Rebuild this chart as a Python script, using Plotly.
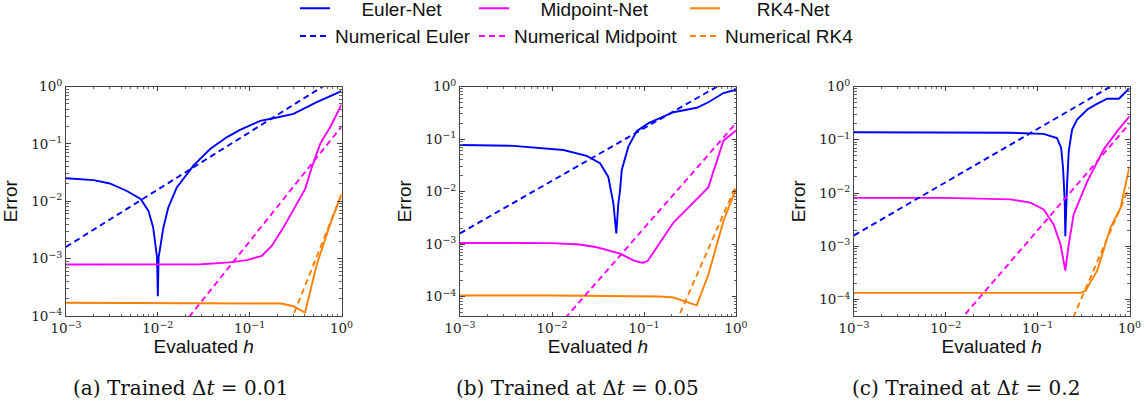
import plotly.graph_objects as go

# ---------------- data ----------------
# Panel (a) trained dt = 0.01
a_euler_h = [0.001, 0.002, 0.003, 0.0046, 0.0065, 0.0079, 0.0089, 0.0098, 0.0100, 0.0102, 0.0115, 0.013,
             0.0161, 0.0200, 0.0244, 0.0371, 0.0562, 0.0785, 0.13, 0.181, 0.30, 0.538, 1.0]
a_euler_e = [0.0251, 0.0234, 0.0204, 0.0151, 0.011, 0.0068, 0.0035, 0.00105, 0.00022, 0.00105, 0.0035, 0.0078,
             0.0174, 0.0282, 0.0417, 0.0813, 0.130, 0.175, 0.251, 0.28, 0.333, 0.533, 0.832]
a_mid_h = [0.001, 0.01, 0.03, 0.06, 0.0933, 0.1355, 0.174, 0.233, 0.401, 0.475, 0.585, 0.752, 1.0]
a_mid_e = [7.9e-4, 7.9e-4, 8.0e-4, 8.6e-4, 9.4e-4, 1.12e-3, 1.66e-3, 3.47e-3, 0.0162, 0.039, 0.1, 0.195, 0.484]
a_rk4_h = [0.001, 0.01, 0.1, 0.22, 0.30, 0.401, 0.538, 0.752, 1.0]
a_rk4_e = [1.7e-4, 1.7e-4, 1.7e-4, 1.65e-4, 1.48e-4, 1.15e-4, 7.9e-4, 4.0e-3, 0.0133]

# Panel (b) trained dt = 0.05
b_euler_h = [0.001, 0.0038, 0.0133, 0.0238, 0.0333, 0.0409, 0.0465, 0.0500, 0.0526, 0.0548, 0.0573, 0.0649,
             0.0676, 0.0832, 0.112, 0.209, 0.374, 0.501, 0.73, 1.0]
b_euler_e = [0.077, 0.074, 0.0617, 0.0479, 0.0347, 0.019, 0.0059, 0.0016, 0.0059, 0.0102, 0.0257, 0.0603,
             0.0716, 0.141, 0.2, 0.324, 0.394, 0.501, 0.75, 0.87]
b_mid_h = [0.001, 0.01, 0.02, 0.0306, 0.055, 0.0766, 0.09, 0.0985, 0.11, 0.209, 0.5, 0.73, 1.0]
b_mid_e = [1.05e-3, 1.04e-3, 9.8e-4, 8.7e-4, 6.6e-4, 4.9e-4, 4.5e-4, 4.4e-4, 4.8e-4, 2.57e-3, 0.012, 0.093, 0.145]
b_rk4_h = [0.001, 0.01, 0.15, 0.21, 0.374, 0.501, 0.73, 1.0]
b_rk4_e = [1.05e-4, 1.05e-4, 1.0e-4, 9.6e-5, 6.8e-5, 2.63e-4, 2.75e-3, 0.0111]

# Panel (c) trained dt = 0.2
c_euler_h = [0.001, 0.01, 0.0504, 0.116, 0.162, 0.18, 0.189, 0.197, 0.200, 0.209, 0.218, 0.237, 0.269,
             0.347, 0.427, 0.571, 0.766, 1.0]
c_euler_e = [0.138, 0.138, 0.135, 0.129, 0.108, 0.0708, 0.0295, 0.0071, 0.00155, 0.0145, 0.061, 0.155, 0.24,
             0.37, 0.457, 0.59, 0.59, 0.93]
c_mid_h = [0.001, 0.01, 0.0504, 0.0832, 0.116, 0.149, 0.177, 0.200, 0.218, 0.247, 0.347, 0.525, 0.735, 1.0]
c_mid_e = [8.1e-3, 8.1e-3, 7.6e-3, 6.6e-3, 4.9e-3, 2.57e-3, 1.1e-3, 3.5e-4, 1.1e-3, 4.0e-3, 0.0166, 0.066,
           0.145, 0.275]
c_rk4_h = [0.001, 0.01, 0.1, 0.292, 0.331, 0.445, 0.621, 0.798, 1.0]
c_rk4_e = [1.33e-4, 1.33e-4, 1.33e-4, 1.33e-4, 1.45e-4, 3.47e-4, 2.24e-3, 5.25e-3, 0.0316]

# Numerical reference methods (same in all panels)
num_euler_h = [0.001, 1.0]
num_euler_e = [1.6e-3, 1.6]
num_mid_h = [0.01, 1.0]
num_mid_e = [2.0e-5, 0.2]
num_rk4_h = [0.1, 1.0]
num_rk4_e = [1.3e-6, 0.013]

series_names = ["Euler-Net", "Midpoint-Net", "RK4-Net",
                "Numerical Euler", "Numerical Midpoint", "Numerical RK4"]
panel_captions = ["(a) Trained Δ<i>t</i> = 0.01", "(b) Trained at Δ<i>t</i> = 0.05",
                  "(c) Trained at Δ<i>t</i> = 0.2"]
tick_exps = [-4, -3, -2, -1, 0]
tick_labels = ["10<sup>−4</sup>", "10<sup>−3</sup>", "10<sup>−2</sup>", "10<sup>−1</sup>", "10<sup>0</sup>"]

# ---------------- styling ----------------
W, H = 1146, 406
BLUE, MAG, ORA = "#0000FF", "#FF00FF", "#FF8000"
SANS = "Liberation Sans"
SERIF = "DejaVu Serif"
LW = 1.9
DASH = "6px,4px"
NB = "\u00a0"
# leading pad so the first-row names sit centred in their column, as in the reference
name_pad = [NB * 5, NB * 5, NB * 6, "", "", ""]

x_px = [(66, 341.5), (460, 736), (854, 1129.5)]
y_px = (86.5, 316)
y_ranges = [[-4, 0], [-4.37, 0], [-4.31, 0]]
caption_x = [181, 577, 966]
caption_y = 388
legend_x = [295, 474, 685]

tickvals = [10.0 ** e for e in tick_exps]
minor_vals = [m * 10.0 ** e for e in range(-5, 1) for m in range(2, 10)]

fig = go.Figure()

panels = [
    (a_euler_h, a_euler_e, a_mid_h, a_mid_e, a_rk4_h, a_rk4_e),
    (b_euler_h, b_euler_e, b_mid_h, b_mid_e, b_rk4_h, b_rk4_e),
    (c_euler_h, c_euler_e, c_mid_h, c_mid_e, c_rk4_h, c_rk4_e),
]

for i, (eh, ee, mh, me, rh, re) in enumerate(panels):
    xa = "x" if i == 0 else f"x{i+1}"
    ya = "y" if i == 0 else f"y{i+1}"
    first = i == 0
    series = [
        (eh, ee, BLUE, "solid", "legend"),
        (mh, me, MAG, "solid", "legend2"),
        (rh, re, ORA, "solid", "legend3"),
        (num_euler_h, num_euler_e, BLUE, DASH, "legend"),
        (num_mid_h, num_mid_e, MAG, DASH, "legend2"),
        (num_rk4_h, num_rk4_e, ORA, DASH, "legend3"),
    ]
    for k, (hx, ey, col, dash, leg) in enumerate(series):
        fig.add_trace(go.Scatter(
            x=hx, y=ey, mode="lines", name=name_pad[k] + series_names[k], legend=leg,
            line=dict(color=col, width=LW, dash=dash),
            showlegend=first, xaxis=xa, yaxis=ya, hoverinfo="skip"))

axis_common = dict(
    type="log", showgrid=False, zeroline=False, showline=True, linecolor="#444444", linewidth=1,
    mirror="allticks", ticks="inside", ticklen=4.5, tickwidth=0.8, tickcolor="#444444",
    tickmode="array", tickvals=tickvals, ticktext=tick_labels,
    tickfont=dict(family=SERIF, size=13.5, color="#222222"),
    minor=dict(ticks="inside", ticklen=2.5, tickwidth=0.6, tickcolor="#666666",
               tickmode="array", tickvals=minor_vals, showgrid=False),
    automargin=False,
)

layout = dict(
    width=W, height=H, margin=dict(l=0, r=0, t=0, b=0, autoexpand=False),
    paper_bgcolor="white", plot_bgcolor="white",
    font=dict(family=SANS, size=19, color="#111111"),
    showlegend=True,
)

for i in range(3):
    xk = "xaxis" if i == 0 else f"xaxis{i+1}"
    yk = "yaxis" if i == 0 else f"yaxis{i+1}"
    ya = "y" if i == 0 else f"y{i+1}"
    xa = "x" if i == 0 else f"x{i+1}"
    x0, x1 = x_px[i]
    layout[xk] = dict(axis_common, domain=[x0 / W, x1 / W], range=[-3, 0], anchor=ya,
                      title=dict(text="Evaluated <i>h</i>", font=dict(family=SANS, size=19, color="#111111"),
                                 standoff=4))
    layout[yk] = dict(axis_common, domain=[1 - y_px[1] / H, 1 - y_px[0] / H], range=y_ranges[i], anchor=xa,
                      title=dict(text="Error", font=dict(family=SANS, size=19, color="#111111"),
                                 standoff=8))

leg_common = dict(orientation="v", xanchor="left", yanchor="top", y=1.026,
                  bgcolor="rgba(0,0,0,0)", borderwidth=0, tracegroupgap=0, itemwidth=30,
                  font=dict(family=SANS, size=19, color="#111111"))
layout["legend"] = dict(leg_common, x=legend_x[0] / W)
layout["legend2"] = dict(leg_common, x=legend_x[1] / W)
layout["legend3"] = dict(leg_common, x=legend_x[2] / W)

layout["annotations"] = [
    dict(text=panel_captions[i], xref="paper", yref="paper", x=caption_x[i] / W, y=1 - caption_y / H,
         xanchor="center", yanchor="middle", showarrow=False,
         font=dict(family=SERIF, size=20, color="#111111"))
    for i in range(3)
]

fig.update_layout(**layout)
fig.write_html("out.html")
